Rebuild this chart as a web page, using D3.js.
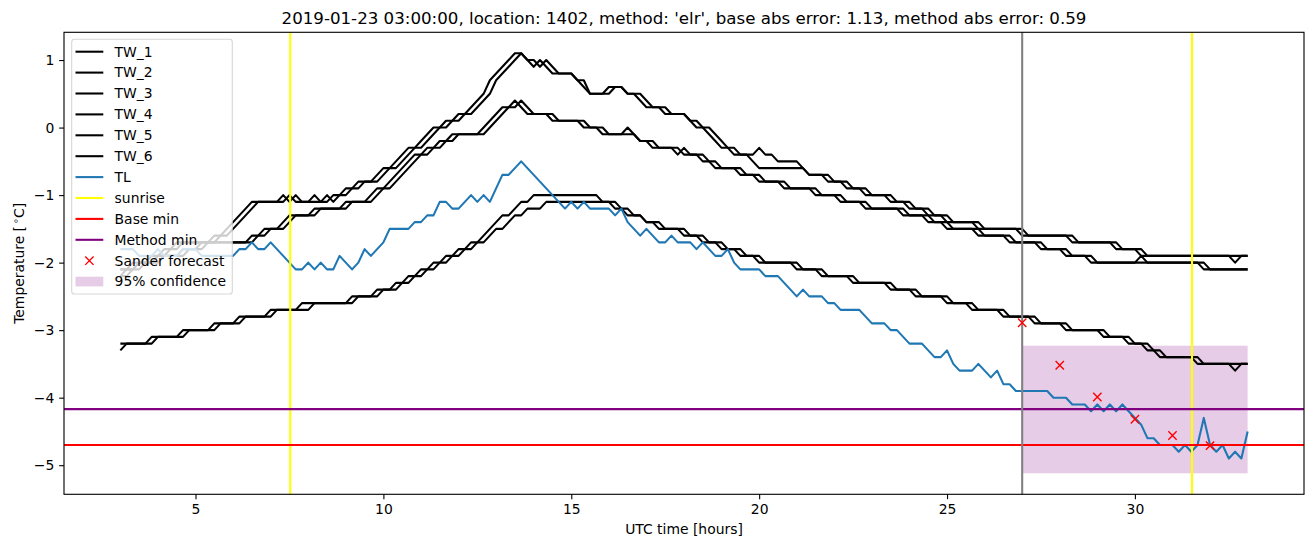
<!DOCTYPE html>
<html><head><meta charset="utf-8">
<script src="https://cdn.jsdelivr.net/npm/d3@7"></script>
<style>body{margin:0;background:#fff}svg{display:block}text{font-family:"DejaVu Sans",sans-serif;fill:#000}</style>
</head><body><svg id="chart" width="1313" height="547"></svg>
<script>
// ---------------- data ----------------
const titleText = "2019-01-23 03:00:00, location: 1402, method: 'elr', base abs error: 1.13, method abs error: 0.59";
const xLabel = "UTC time [hours]";
const xTicks = [5, 10, 15, 20, 25, 30];
const yTicks = [1, 0, -1, -2, -3, -4, -5];
const sampleStartHour = 3, sampleEndHour = 33, samplesPerHour = 6;

// change points [hour, value]: value holds from that sample until the next change
const tw1 = [[3.0,-2.1],[3.33,-2.0],[3.83,-1.9],[4.17,-1.8],[4.5,-1.7],[5.5,-1.6],[5.83,-1.5],[6.0,-1.4],[6.17,-1.3],[6.33,-1.2],[6.5,-1.1],[7.33,-1.0],[7.5,-1.1],[7.67,-1.0],[7.83,-1.1],[8.17,-1.0],[8.33,-1.1],[8.67,-1.0],[9.0,-0.9],[9.33,-0.8],[9.83,-0.7],[10.0,-0.6],[10.33,-0.5],[10.5,-0.4],[10.67,-0.3],[11.0,-0.2],[11.17,-0.1],[11.33,0.0],[11.67,0.1],[12.0,0.2],[12.33,0.3],[12.5,0.4],[12.67,0.5],[12.83,0.7],[13.0,0.8],[13.17,0.9],[13.33,1.0],[13.5,1.1],[13.83,1.0],[14.0,0.9],[14.17,1.0],[14.33,0.9],[14.5,0.8],[15.17,0.7],[15.33,0.6],[15.5,0.5],[16.0,0.6],[16.5,0.5],[16.83,0.4],[17.0,0.3],[17.5,0.2],[18.17,0.1],[18.33,0.0],[18.67,-0.1],[18.83,-0.2],[19.0,-0.3],[19.33,-0.4],[20.0,-0.3],[20.17,-0.4],[20.5,-0.5],[21.17,-0.6],[21.33,-0.7],[21.83,-0.8],[22.33,-0.9],[22.83,-1.0],[23.5,-1.1],[24.0,-1.2],[24.5,-1.3],[25.0,-1.4],[25.83,-1.5],[27.0,-1.6],[28.33,-1.7],[29.5,-1.8],[30.17,-1.9],[32.67,-2.0],[32.83,-1.9]];
const tw2 = [[3.0,-2.2],[3.17,-2.1],[3.5,-2.0],[4.0,-1.9],[4.33,-1.8],[4.67,-1.7],[5.67,-1.6],[6.0,-1.5],[6.17,-1.4],[6.33,-1.3],[6.5,-1.2],[6.67,-1.1],[7.5,-1.0],[7.67,-1.1],[8.5,-1.0],[8.67,-1.1],[8.83,-1.0],[9.17,-0.9],[9.5,-0.8],[10.0,-0.7],[10.17,-0.6],[10.5,-0.5],[10.67,-0.4],[10.83,-0.3],[11.17,-0.2],[11.33,-0.1],[11.5,0.0],[11.83,0.1],[12.17,0.2],[12.5,0.3],[12.67,0.4],[12.83,0.5],[13.0,0.7],[13.17,0.8],[13.33,0.9],[13.5,1.0],[13.67,1.1],[13.83,1.0],[14.17,0.9],[14.33,1.0],[14.5,0.9],[14.67,0.8],[15.17,0.7],[15.5,0.5],[16.17,0.6],[16.5,0.5],[17.0,0.4],[17.17,0.3],[17.67,0.2],[18.17,0.1],[18.5,0.0],[18.83,-0.1],[19.0,-0.2],[19.17,-0.3],[19.5,-0.4],[19.83,-0.5],[20.0,-0.6],[21.33,-0.7],[22.0,-0.8],[22.5,-0.9],[23.0,-1.0],[23.67,-1.1],[24.17,-1.2],[24.67,-1.3],[25.17,-1.4],[26.0,-1.5],[27.17,-1.6],[28.5,-1.7],[29.67,-1.8],[30.33,-1.9]];
const tw3 = [[3.0,-2.1],[3.5,-2.0],[4.0,-1.9],[4.67,-1.8],[5.17,-1.7],[6.5,-1.6],[6.83,-1.5],[7.33,-1.4],[7.5,-1.3],[8.17,-1.2],[9.0,-1.1],[9.67,-1.0],[9.83,-0.9],[10.17,-0.8],[10.33,-0.7],[10.5,-0.6],[10.67,-0.5],[10.83,-0.4],[11.17,-0.3],[11.5,-0.2],[11.83,-0.1],[12.67,0.0],[12.83,0.1],[13.0,0.2],[13.17,0.3],[13.5,0.4],[13.67,0.3],[13.83,0.2],[14.5,0.1],[15.33,0.0],[15.83,-0.1],[16.5,0.0],[16.67,-0.1],[16.83,-0.2],[17.17,-0.3],[17.83,-0.4],[18.0,-0.3],[18.17,-0.4],[18.5,-0.5],[18.83,-0.6],[19.5,-0.7],[20.0,-0.8],[20.67,-0.9],[21.5,-1.0],[22.17,-1.1],[22.83,-1.2],[23.83,-1.3],[24.5,-1.4],[25.0,-1.5],[25.83,-1.6],[26.67,-1.7],[27.67,-1.8],[28.17,-1.9],[28.83,-2.0],[30.17,-1.9],[30.33,-2.0],[31.83,-2.1]];
const tw4 = [[3.0,-2.2],[3.33,-2.1],[3.67,-2.0],[4.17,-1.9],[4.83,-1.8],[5.33,-1.7],[6.67,-1.6],[7.0,-1.5],[7.5,-1.4],[7.67,-1.3],[8.33,-1.2],[9.17,-1.1],[9.83,-1.0],[10.0,-0.9],[10.33,-0.8],[10.5,-0.7],[10.67,-0.6],[10.83,-0.5],[11.0,-0.4],[11.33,-0.3],[11.67,-0.2],[12.0,-0.1],[12.83,0.0],[13.0,0.1],[13.17,0.2],[13.33,0.3],[13.67,0.4],[13.83,0.3],[14.0,0.2],[14.67,0.1],[15.5,0.0],[16.0,-0.1],[16.83,-0.2],[17.33,-0.3],[18.0,-0.4],[18.67,-0.5],[19.0,-0.6],[19.67,-0.7],[20.17,-0.8],[20.83,-0.9],[21.67,-1.0],[22.33,-1.1],[23.0,-1.2],[24.0,-1.3],[24.67,-1.4],[25.17,-1.5],[26.0,-1.6],[26.83,-1.7],[27.5,-1.8],[28.33,-1.9],[29.0,-2.0],[32.0,-2.1]];
const tw5 = [[3.0,-3.2],[3.83,-3.1],[4.67,-3.0],[5.5,-2.9],[6.17,-2.8],[7.0,-2.7],[7.83,-2.6],[9.17,-2.5],[9.83,-2.4],[10.33,-2.3],[10.67,-2.2],[11.0,-2.1],[11.33,-2.0],[11.67,-1.9],[12.0,-1.8],[12.33,-1.7],[12.67,-1.6],[12.83,-1.5],[13.0,-1.4],[13.17,-1.3],[13.5,-1.2],[13.67,-1.1],[14.0,-1.0],[15.83,-1.1],[16.33,-1.2],[16.67,-1.3],[17.0,-1.4],[17.5,-1.5],[18.0,-1.6],[18.5,-1.7],[19.0,-1.8],[19.5,-1.9],[20.0,-2.0],[21.0,-2.1],[21.67,-2.2],[22.5,-2.3],[23.5,-2.4],[24.17,-2.5],[25.0,-2.6],[25.67,-2.7],[26.5,-2.8],[27.33,-2.9],[28.17,-3.0],[29.17,-3.1],[29.83,-3.2],[30.33,-3.3],[30.67,-3.4],[31.67,-3.5],[32.67,-3.6],[32.83,-3.5]];
const tw6 = [[3.0,-3.3],[3.17,-3.2],[4.0,-3.1],[4.83,-3.0],[5.67,-2.9],[6.33,-2.8],[7.17,-2.7],[8.17,-2.6],[9.33,-2.5],[10.0,-2.4],[10.5,-2.3],[10.83,-2.2],[11.17,-2.1],[11.5,-2.0],[11.83,-1.9],[12.17,-1.8],[12.5,-1.7],[12.83,-1.6],[13.0,-1.5],[13.33,-1.4],[13.5,-1.3],[13.83,-1.2],[14.33,-1.1],[16.17,-1.2],[16.5,-1.3],[17.0,-1.4],[17.33,-1.5],[18.17,-1.6],[18.67,-1.7],[19.17,-1.8],[19.67,-1.9],[20.17,-2.0],[21.17,-2.1],[21.83,-2.2],[22.67,-2.3],[23.67,-2.4],[24.33,-2.5],[25.17,-2.6],[25.83,-2.7],[26.67,-2.8],[27.5,-2.9],[28.33,-3.0],[29.33,-3.1],[30.0,-3.2],[30.5,-3.3],[30.83,-3.4],[31.83,-3.5]];
const tl = [[3.0,-1.8],[3.5,-1.9],[4.0,-1.8],[4.17,-1.9],[4.67,-1.8],[5.17,-1.9],[6.17,-1.8],[6.5,-1.7],[6.67,-1.8],[7.0,-1.7],[7.17,-1.8],[7.33,-1.9],[7.5,-2.0],[7.67,-2.1],[8.0,-2.0],[8.17,-2.1],[8.33,-2.0],[8.5,-2.1],[8.83,-1.9],[9.0,-2.0],[9.17,-2.1],[9.33,-2.0],[9.5,-1.8],[9.67,-1.9],[9.83,-1.8],[10.0,-1.7],[10.17,-1.5],[10.83,-1.4],[11.17,-1.3],[11.5,-1.1],[11.83,-1.2],[12.17,-1.1],[12.33,-1.0],[12.5,-1.1],[12.67,-1.0],[12.83,-1.1],[13.0,-0.9],[13.17,-0.7],[13.5,-0.6],[13.67,-0.5],[13.83,-0.6],[14.0,-0.7],[14.17,-0.8],[14.33,-0.9],[14.5,-1.0],[14.67,-1.1],[14.83,-1.2],[15.0,-1.1],[15.17,-1.2],[15.33,-1.1],[15.5,-1.2],[16.17,-1.3],[16.33,-1.2],[16.5,-1.4],[16.67,-1.5],[16.83,-1.6],[17.0,-1.5],[17.17,-1.6],[17.33,-1.7],[17.67,-1.6],[17.83,-1.7],[18.33,-1.8],[18.5,-1.7],[18.67,-1.8],[18.83,-1.9],[19.17,-1.8],[19.33,-2.0],[19.5,-2.1],[20.17,-2.2],[20.67,-2.3],[20.83,-2.4],[21.0,-2.5],[21.17,-2.4],[21.33,-2.5],[21.83,-2.6],[22.17,-2.7],[22.83,-2.8],[23.0,-2.9],[23.5,-3.0],[23.83,-3.1],[24.0,-3.2],[24.5,-3.3],[24.67,-3.4],[25.0,-3.3],[25.17,-3.5],[25.33,-3.6],[25.83,-3.5],[26.0,-3.6],[26.17,-3.7],[26.33,-3.6],[26.5,-3.8],[26.83,-3.9],[27.83,-4.0],[28.33,-4.1],[28.83,-4.2],[29.0,-4.1],[29.17,-4.2],[29.33,-4.1],[29.5,-4.2],[29.67,-4.1],[29.83,-4.2],[30.0,-4.3],[30.17,-4.4],[30.33,-4.6],[30.67,-4.7],[31.17,-4.8],[31.33,-4.7],[31.5,-4.8],[31.67,-4.7],[31.83,-4.3],[32.0,-4.7],[32.17,-4.8],[32.33,-4.7],[32.5,-4.9],[32.67,-4.8],[32.83,-4.9],[33.0,-4.5]];

const twSeries = [tw1, tw2, tw3, tw4, tw5, tw6];
const twNames = ["TW_1", "TW_2", "TW_3", "TW_4", "TW_5", "TW_6"];
const sunriseHours = [7.52, 31.52];
const baseMin = -4.70;
const methodMin = -4.17;
const issueHour = 27;
const forecastHours = [27, 28, 29, 30, 31, 32];
const forecastValues = [-2.89, -3.52, -3.99, -4.32, -4.56, -4.71];
const confidenceHours = [27, 33];
const confidenceBounds = [-5.12, -3.23];
const legendLabels = ["TW_1","TW_2","TW_3","TW_4","TW_5","TW_6","TL","sunrise","Base min","Method min","Sander forecast","95% confidence"];

// ---------------- drawing ----------------
function expand(changes) {
  const n = Math.round((sampleEndHour - sampleStartHour) * samplesPerHour);
  const idx = changes.map(c => Math.round((c[0] - sampleStartHour) * samplesPerHour));
  const out = []; let k = 0;
  for (let i = 0; i <= n; i++) {
    while (k + 1 < changes.length && idx[k + 1] <= i) k++;
    out.push([sampleStartHour + i / samplesPerHour, changes[k][1]]);
  }
  return out;
}

const svg = d3.select("#chart");
const L = 64, R = 1304, T = 32.3, B = 494.3;
const fs = 13.9;

const allVals = [...twSeries.flat().map(d => d[1]), ...tl.map(d => d[1]), ...confidenceBounds, baseMin, methodMin, ...forecastValues];
const yMin = d3.min(allVals), yMax = d3.max(allVals);
const yPad = (yMax - yMin) * 0.05;
const xPad = (sampleEndHour - sampleStartHour) * 0.05;
const x = d3.scaleLinear().domain([sampleStartHour - xPad, sampleEndHour + xPad]).range([L, R]);
const y = d3.scaleLinear().domain([yMin - yPad, yMax + yPad]).range([B, T]);

const lw = 2.08;
const line = d3.line().x(d => x(d[0])).y(d => y(d[1]));
const plot = svg.append("g");

// confidence band (zorder 1)
plot.append("rect")
  .attr("x", x(confidenceHours[0])).attr("width", x(confidenceHours[1]) - x(confidenceHours[0]))
  .attr("y", y(confidenceBounds[1])).attr("height", y(confidenceBounds[0]) - y(confidenceBounds[1]))
  .attr("fill", "purple").attr("fill-opacity", 0.2);

twSeries.forEach(s => {
  plot.append("path").datum(expand(s)).attr("d", line)
    .attr("fill", "none").attr("stroke", "#000").attr("stroke-width", lw).attr("stroke-linejoin", "round").attr("stroke-linecap", "butt");
});
plot.append("path").datum(expand(tl)).attr("d", line)
  .attr("fill", "none").attr("stroke", "#1f77b4").attr("stroke-width", lw).attr("stroke-linejoin", "round");

sunriseHours.forEach(h => {
  plot.append("line").attr("x1", x(h)).attr("x2", x(h)).attr("y1", T).attr("y2", B)
    .attr("stroke", "#ffff00").attr("stroke-width", lw);
});
plot.append("line").attr("x1", L).attr("x2", R).attr("y1", y(baseMin)).attr("y2", y(baseMin))
  .attr("stroke", "#ff0000").attr("stroke-width", lw);
plot.append("line").attr("x1", L).attr("x2", R).attr("y1", y(methodMin)).attr("y2", y(methodMin))
  .attr("stroke", "#800080").attr("stroke-width", lw);
plot.append("line").attr("x1", x(issueHour)).attr("x2", x(issueHour)).attr("y1", T).attr("y2", B)
  .attr("stroke", "#808080").attr("stroke-width", lw);

const ms = 4.17;
function xMarker(g, cx, cy) {
  g.append("path").attr("d", `M${cx - ms},${cy - ms}L${cx + ms},${cy + ms}M${cx - ms},${cy + ms}L${cx + ms},${cy - ms}`)
    .attr("stroke", "#ff0000").attr("stroke-width", 1.39).attr("fill", "none");
}
forecastHours.forEach((h, i) => xMarker(plot, x(h), y(forecastValues[i])));

// spines
svg.append("rect").attr("x", L).attr("y", T).attr("width", R - L).attr("height", B - T)
  .attr("fill", "none").attr("stroke", "#000").attr("stroke-width", 1.11);

// axes
const tickLen = 4.86;
const xAxis = svg.append("g").attr("transform", `translate(0,${B})`)
  .call(d3.axisBottom(x).tickValues(xTicks).tickSize(tickLen).tickPadding(4.86).tickFormat(d3.format("d")));
const yAxis = svg.append("g").attr("transform", `translate(${L},0)`)
  .call(d3.axisLeft(y).tickValues(yTicks).tickSize(tickLen).tickPadding(4.86).tickFormat(d3.format("d")));
[xAxis, yAxis].forEach(a => {
  a.select(".domain").remove();
  a.selectAll(".tick line").attr("stroke", "#000").attr("stroke-width", 1.11);
  a.selectAll(".tick text").attr("font-size", fs).attr("font-family", '"DejaVu Sans",sans-serif').attr("fill", "#000");
});

// title & labels
svg.append("text").attr("x", (L + R) / 2).attr("y", 23.8).attr("text-anchor", "middle")
  .attr("font-size", 16.67).text(titleText);
svg.append("text").attr("x", (L + R) / 2).attr("y", 533.5).attr("text-anchor", "middle")
  .attr("font-size", fs).text(xLabel);
const yl = svg.append("text").attr("transform", `translate(23.5,${(T + B) / 2}) rotate(-90)`)
  .attr("text-anchor", "middle").attr("font-size", fs);
yl.append("tspan").text("Temperature [");
yl.append("tspan").attr("dx", 2).attr("dy", -5).attr("font-size", 9.7).text("∘");
yl.append("tspan").attr("dy", 5).text("C]");

// legend
const lg = svg.append("g");
const lx = 71.7, ly = 39.3, lwid = 160.6, row = 20.9, firstRow = 51.7;
lg.append("rect").attr("x", lx).attr("y", ly).attr("width", lwid).attr("height", 254.7).attr("rx", 2.8)
  .attr("fill", "#fff").attr("fill-opacity", 0.8).attr("stroke", "#cccccc").attr("stroke-opacity", 0.8).attr("stroke-width", 1.11);
const handleColors = ["#000","#000","#000","#000","#000","#000","#1f77b4","#ffff00","#ff0000","#800080"];
legendLabels.forEach((lab, i) => {
  const cy = firstRow + i * row;
  if (i < 10) {
    lg.append("line").attr("x1", 75.5).attr("x2", 103.3).attr("y1", cy).attr("y2", cy)
      .attr("stroke", handleColors[i]).attr("stroke-width", lw);
  } else if (i === 10) {
    xMarker(lg, 89.4, cy);
  } else {
    lg.append("rect").attr("x", 75.5).attr("y", cy - 4.9).attr("width", 27.8).attr("height", 9.7)
      .attr("fill", "purple").attr("fill-opacity", 0.2);
  }
  lg.append("text").attr("x", 114.6).attr("y", cy + 4.8).attr("font-size", fs).text(lab);
});
</script></body></html>
